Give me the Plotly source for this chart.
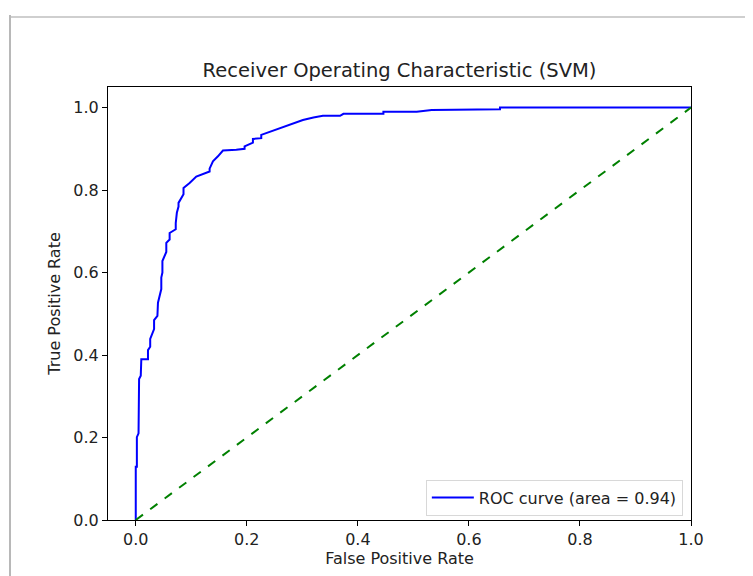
import plotly.graph_objects as go

# ROC curve points (False Positive Rate, True Positive Rate)
fpr = [0.000, 0.000, 0.002, 0.002, 0.005, 0.005, 0.006, 0.006, 0.009, 0.009, 0.010, 0.010,
       0.022, 0.022, 0.026, 0.026, 0.033, 0.033, 0.039, 0.040, 0.040, 0.046, 0.046, 0.048,
       0.048, 0.055, 0.055, 0.061, 0.061, 0.072, 0.072, 0.074, 0.077, 0.077, 0.086, 0.086,
       0.097, 0.109, 0.124, 0.133, 0.133, 0.139, 0.148, 0.157, 0.181, 0.196, 0.196, 0.211,
       0.211, 0.226, 0.226, 0.247, 0.260, 0.277, 0.290, 0.301, 0.320, 0.337, 0.368, 0.374,
       0.446, 0.446, 0.506, 0.533, 0.656, 0.656, 1.000]
tpr = [0.000, 0.129, 0.129, 0.201, 0.210, 0.217, 0.217, 0.342, 0.350, 0.358, 0.358, 0.390,
       0.390, 0.412, 0.420, 0.439, 0.463, 0.485, 0.495, 0.511, 0.527, 0.560, 0.588, 0.600,
       0.628, 0.650, 0.672, 0.680, 0.696, 0.705, 0.720, 0.745, 0.760, 0.769, 0.790, 0.805,
       0.817, 0.833, 0.841, 0.845, 0.852, 0.870, 0.882, 0.896, 0.898, 0.900, 0.906, 0.915,
       0.924, 0.926, 0.934, 0.944, 0.950, 0.960, 0.965, 0.970, 0.976, 0.980, 0.980, 0.985,
       0.985, 0.990, 0.990, 0.994, 0.996, 1.000, 1.000]

diag_x = [0.0, 1.0]
diag_y = [0.0, 1.0]

roc_auc = 0.94
x_ticks = [0.0, 0.2, 0.4, 0.6, 0.8, 1.0]
y_ticks = [0.0, 0.2, 0.4, 0.6, 0.8, 1.0]

FONT = "DejaVu Sans"
TXT = "#222"

fig = go.Figure()
fig.add_trace(go.Scatter(x=fpr, y=tpr, mode="lines",
                         line=dict(color="blue", width=2),
                         name=f"ROC curve (area = {roc_auc:.2f})"))
fig.add_trace(go.Scatter(x=diag_x, y=diag_y, mode="lines",
                         line=dict(color="green", width=2, dash="dash"),
                         showlegend=False))

axis_common = dict(showgrid=False, zeroline=False, showline=True, linecolor="black",
                   linewidth=1, mirror=True, ticks="outside", ticklen=5, tickcolor="black",
                   tickfont=dict(family=FONT, size=16, color=TXT))

# page body has an 8px margin, so the figure is sized/margined to compensate
W, H = 745, 568
ML, MT, MR, MB = 100, 79, 62, 56

fig.update_layout(
    width=W, height=H,
    margin=dict(l=ML, r=MR, t=MT, b=MB),
    paper_bgcolor="white", plot_bgcolor="white",
    title=dict(text="Receiver Operating Characteristic (SVM)",
               x=(ML + 583 / 2) / W, xanchor="center",
               y=1 - 62 / H, yanchor="middle",
               font=dict(family=FONT, size=19.5, color=TXT)),
    xaxis=dict(range=[-0.05, 1.0], tickvals=x_ticks, ticktext=[f"{v:.1f}" for v in x_ticks],
               title=dict(text="False Positive Rate", font=dict(family=FONT, size=16, color=TXT),
                          standoff=4), **axis_common),
    yaxis=dict(range=[0.0, 1.05], tickvals=y_ticks, ticktext=[f"{v:.1f}" for v in y_ticks],
               title=dict(text="True Positive Rate", font=dict(family=FONT, size=16, color=TXT),
                          standoff=8), **axis_common),
    legend=dict(x=0.986, y=0.01, xanchor="right", yanchor="bottom",
                bgcolor="rgba(255,255,255,0.8)", bordercolor="#d8d8d8", borderwidth=1,
                itemwidth=42,
                font=dict(family=FONT, size=16, color=TXT)),
    showlegend=True,
)

# screenshot frame artefacts (thin gray borders)
PX_W, PX_H = 583, 433
fig.add_shape(type="line", xref="paper", yref="paper",
              x0=(10 - 108) / PX_W, x1=(753 - 108) / PX_W,
              y0=(520 - 17) / PX_H, y1=(520 - 17) / PX_H,
              line=dict(color="#cfcfcf", width=2))
fig.add_shape(type="line", xref="paper", yref="paper",
              x0=(10 - 108) / PX_W, x1=(10 - 108) / PX_W,
              y0=(520 - 15) / PX_H, y1=(520 - 576) / PX_H,
              line=dict(color="#b8b8b8", width=2))

fig.write_html("out.html")
